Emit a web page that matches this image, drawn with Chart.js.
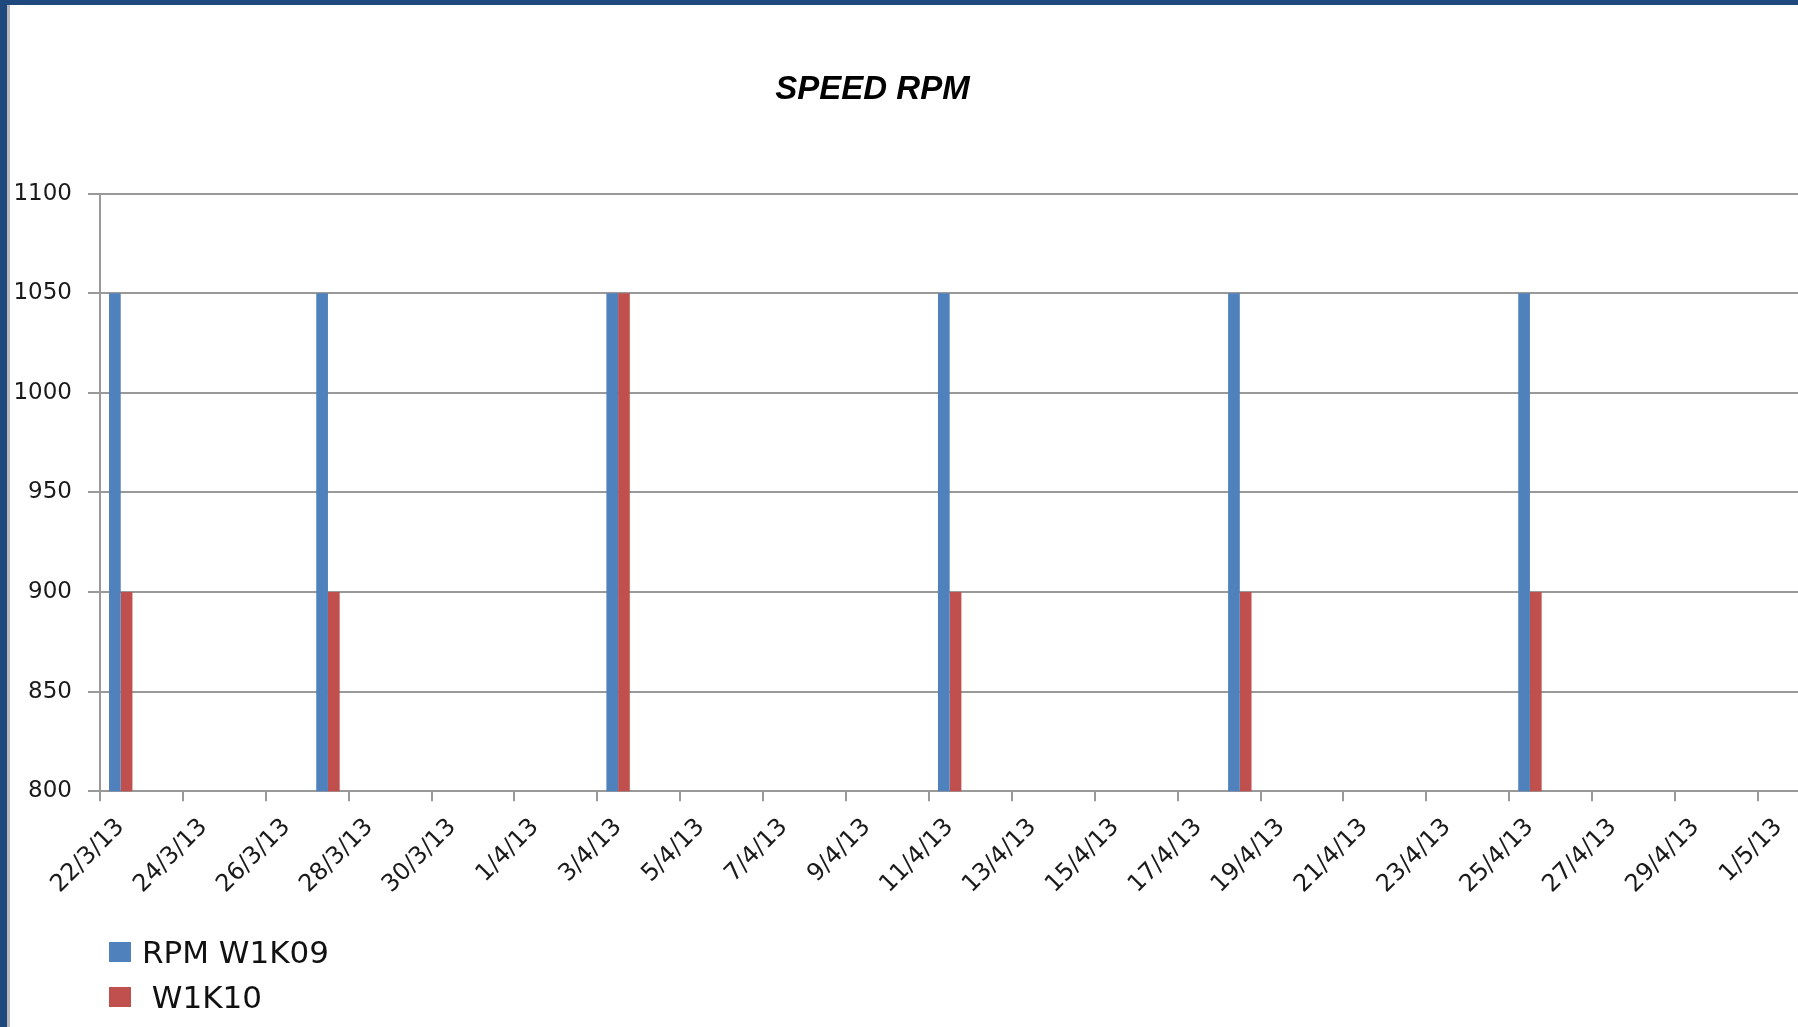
<!DOCTYPE html>
<html lang="en">
<head>
<meta charset="UTF-8">
<title>SPEED RPM</title>
<script src="https://cdn.jsdelivr.net/npm/chart.js"></script>
<style>
  body { margin: 0; width: 1798px; height: 1027px; overflow: hidden; background: #fff; position: relative; }
  #frameTop { position: absolute; left: 0; top: 0; width: 1798px; height: 5px; background: #1f497d; z-index: 2; }
  #frameLeft { position: absolute; left: 0; top: 0; width: 7px; height: 1027px; background: #1f497d; }
  #frameLine { position: absolute; left: 7px; top: 5px; width: 3px; height: 1022px; background: #b8b8b8; }
  /* the plot runs off the right edge of the screenshot, so the canvas does too */
  #wrap { position: absolute; left: 10px; top: 5px; width: 1801px; height: 1022px; }
  #legend .item { position: absolute; left: 109px; height: 22px; display: flex; align-items: center;
    font: 31px "DejaVu Sans", sans-serif; color: #111; white-space: pre; }
  #legend .swatch { width: 22px; height: 20px; margin-right: 11px; }
</style>
</head>
<body>
<div id="frameTop"></div>
<div id="frameLeft"></div>
<div id="frameLine"></div>
<div id="wrap"><canvas id="speedChart"></canvas></div>
<div id="legend"></div>

<script>
// every day on the date axis
const days = [
  '22/3/13', '23/3/13', '24/3/13', '25/3/13', '26/3/13', '27/3/13', '28/3/13', '29/3/13',
  '30/3/13', '31/3/13', '1/4/13', '2/4/13', '3/4/13', '4/4/13', '5/4/13', '6/4/13',
  '7/4/13', '8/4/13', '9/4/13', '10/4/13', '11/4/13', '12/4/13', '13/4/13', '14/4/13',
  '15/4/13', '16/4/13', '17/4/13', '18/4/13', '19/4/13', '20/4/13', '21/4/13', '22/4/13',
  '23/4/13', '24/4/13', '25/4/13', '26/4/13', '27/4/13', '28/4/13', '29/4/13', '30/4/13',
  '1/5/13'
];

// days that have readings
const readingDates = ['22/3/13', '27/3/13', '3/4/13', '11/4/13', '18/4/13', '25/4/13'];
const rpmW1K09 = [1050, 1050, 1050, 1050, 1050, 1050];
const rpmW1K10 = [900, 900, 1050, 900, 900, 900];

const seriesNames = ['RPM W1K09', ' W1K10'];
const seriesColors = ['#4f81bd', '#c0504d'];

const yMin = 800, yMax = 1100, yStep = 50;

function points(values) {
  return readingDates.map((d, i) => ({ x: d, y: values[i] }));
}

// Excel title sits a bit left of the canvas centre
const titleShift = {
  id: 'titleShift',
  afterLayout(chart) {
    const t = chart.titleBlock;
    if (t) { t.left -= 38; t.right -= 38; }
  }
};

const axisGrey = '#999999';

const ctx = document.getElementById('speedChart').getContext('2d');
const speedChart = new Chart(ctx, {
  type: 'bar',
  data: {
    labels: days,
    datasets: [
      { label: seriesNames[0], data: points(rpmW1K09), backgroundColor: seriesColors[0] },
      { label: seriesNames[1], data: points(rpmW1K10), backgroundColor: seriesColors[1] }
    ]
  },
  options: {
    responsive: true,
    maintainAspectRatio: false,
    animation: false,
    categoryPercentage: 0.565,
    barPercentage: 1.0,
    layout: { padding: { left: 0, right: 0, top: 0, bottom: 116 } },
    plugins: {
      legend: { display: false },
      tooltip: { enabled: false },
      title: {
        display: true,
        text: 'SPEED RPM',
        color: '#000',
        font: { family: 'Liberation Sans', size: 33, weight: 'bold', style: 'italic' },
        padding: { top: 65, bottom: 84 }
      }
    },
    scales: {
      x: {
        offset: true,
        grid: {
          offset: true, drawOnChartArea: false, drawTicks: true, tickLength: 10, lineWidth: 2,
          // tick marks only every second day, as on the original
          tickColor: (c) => (c.index % 2 === 0 ? axisGrey : 'rgba(0,0,0,0)')
        },
        border: { color: axisGrey, width: 2 },
        ticks: {
          autoSkip: false,
          maxRotation: 45,
          minRotation: 45,
          padding: 12,
          color: '#1a1a1a',
          font: { family: 'DejaVu Sans', size: 24 },
          callback: function (value, index) {
            return index % 2 === 0 ? this.getLabelForValue(value) : '';
          }
        }
      },
      y: {
        min: yMin,
        max: yMax,
        afterFit: (scale) => { scale.width = 90; },
        grid: { color: axisGrey, lineWidth: 2, tickLength: 12 },
        border: { color: axisGrey, width: 2 },
        ticks: {
          stepSize: yStep, padding: 16, color: '#1a1a1a',
          font: { family: 'DejaVu Sans', size: 23 },
          callback: (v) => String(v)
        }
      }
    }
  },
  plugins: [titleShift]
});

// legend as a vertical list under the axis, like the Excel original
const legendBox = document.getElementById('legend');
speedChart.data.datasets.forEach((ds, i) => {
  const item = document.createElement('div');
  item.className = 'item';
  item.style.top = (941 + i * 45) + 'px';
  const sw = document.createElement('span');
  sw.className = 'swatch';
  sw.style.background = ds.backgroundColor;
  const txt = document.createElement('span');
  txt.textContent = ds.label;
  item.appendChild(sw);
  item.appendChild(txt);
  legendBox.appendChild(item);
});
</script>
</body>
</html>
